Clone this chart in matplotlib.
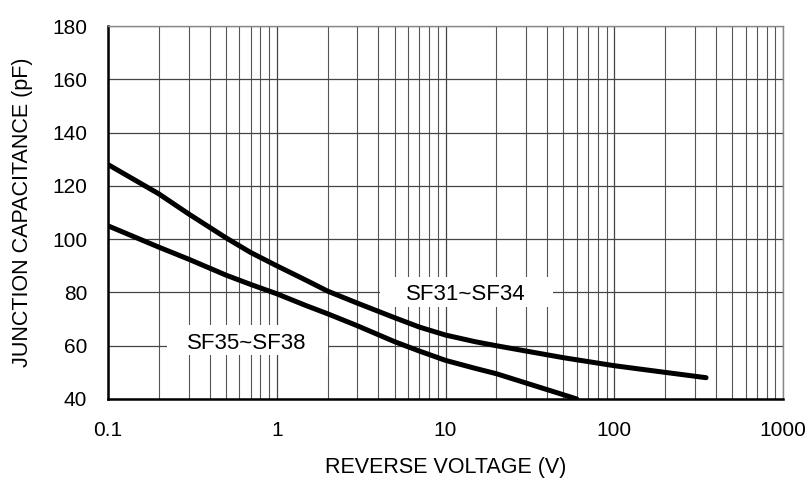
import matplotlib
matplotlib.use('Agg')
import matplotlib.pyplot as plt
import matplotlib.patches as mpatches
from matplotlib.ticker import FixedLocator, NullFormatter

# ==================== dados ====================
v_sf31 = [0.1, 0.2, 0.3, 0.5, 0.7, 1, 1.5, 2, 3, 5, 7, 10, 15, 20, 30, 50, 100, 200, 350]
c_sf31 = [128, 117, 109.5, 100.5, 95, 90, 84.5, 80.5, 76, 70.5, 67, 64, 61.5, 60, 58, 55.5, 52.5, 50, 48]

v_sf35 = [0.1, 0.2, 0.3, 0.5, 0.7, 1, 1.5, 2, 3, 5, 7, 10, 15, 20, 30, 45, 60]
c_sf35 = [105, 97, 92.5, 86.5, 83, 79.5, 75, 72, 67.5, 61.5, 58, 54.5, 51.5, 49.5, 46, 42.5, 40]

x_ticks = [0.1, 1, 10, 100, 1000]
x_labels = ['0.1', '1', '10', '100', '1000']
y_ticks = [40, 60, 80, 100, 120, 140, 160, 180]

plt.rcParams['font.family'] = ['Liberation Sans', 'DejaVu Sans']

fig = plt.figure(figsize=(8.08, 4.8), dpi=100)
ax = fig.add_axes([108/808, 1-399/480, 675/808, 373/480])

ax.set_xscale('log')
ax.set_xlim(0.1, 1000)
ax.set_ylim(40, 180)

# grade
minors = [m * 10.0**d for d in range(-1, 3) for m in range(2, 10)]
ax.xaxis.set_minor_locator(FixedLocator(minors))
ax.xaxis.set_minor_formatter(NullFormatter())
ax.set_xticks(x_ticks)
ax.set_xticklabels(x_labels)
ax.set_yticks(y_ticks)
ax.grid(True, which='major', color='#444444', lw=0.9, zorder=0)
ax.grid(True, which='minor', axis='x', color='#555555', lw=0.8, zorder=0)
ax.set_axisbelow(True)

ax.tick_params(axis='both', which='both', length=0, labelsize=15)
ax.tick_params(axis='x', pad=16)
ax.tick_params(axis='y', pad=15)

for s in ['top', 'right']:
    ax.spines[s].set_color('#888888')
    ax.spines[s].set_linewidth(1.0)
for s in ['left', 'bottom']:
    ax.spines[s].set_color('black')
    ax.spines[s].set_linewidth(1.8)

# curvas
ax.plot(v_sf31, c_sf31, color='black', lw=3.6, solid_capstyle='round', zorder=4)
ax.plot(v_sf35, c_sf35, color='black', lw=3.6, solid_capstyle='round', zorder=4)

# caixas brancas dos rotulos
ax.add_patch(mpatches.Rectangle((0.403, 0.247), 0.256, 0.08, transform=ax.transAxes,
                                fc='white', ec='none', zorder=2))
ax.add_patch(mpatches.Rectangle((0.087, 0.118), 0.239, 0.08, transform=ax.transAxes,
                                fc='white', ec='none', zorder=2))
ax.text(0.530, 0.279, 'SF31~SF34', transform=ax.transAxes, ha='center', va='center',
        fontsize=16, zorder=3)
ax.text(0.206, 0.149, 'SF35~SF38', transform=ax.transAxes, ha='center', va='center',
        fontsize=16, zorder=3)

ax.set_xlabel('REVERSE VOLTAGE (V)', fontsize=15.5, labelpad=12)
ax.set_ylabel('JUNCTION CAPACITANCE (pF)', fontsize=15.5, labelpad=14)

fig.savefig('out.png', dpi=100)
